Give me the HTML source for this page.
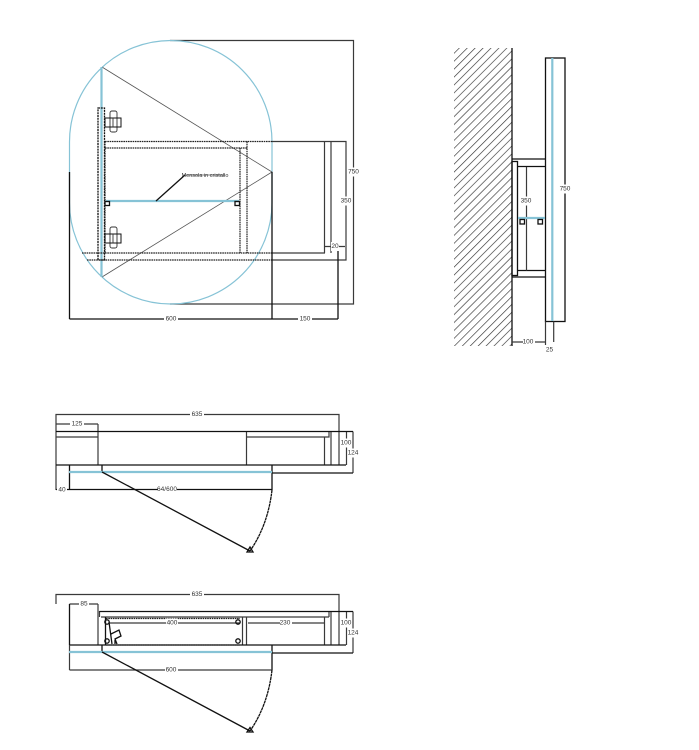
<!DOCTYPE html>
<html><head><meta charset="utf-8"><style>
html,body{margin:0;padding:0;background:#fff}
svg{display:block;filter:blur(.35px)}
text{font-family:"Liberation Sans",sans-serif;font-size:6.5px;fill:#333;text-anchor:middle;dominant-baseline:middle}
.k{stroke:#111;stroke-width:1.3;fill:none}
.g{stroke:#3a3a3a;stroke-width:1.2;fill:none}
.t{stroke:#555;stroke-width:.8;fill:none}
.d{stroke:#222;stroke-width:1.2;fill:none;stroke-dasharray:1.6 .7}
.b{stroke:#86c3d6;stroke-width:2.2;fill:none}
.bg{stroke:#fff;stroke-width:9}
</style></head><body>
<svg width="699" height="750" viewBox="0 0 699 750" xmlns="http://www.w3.org/2000/svg">
<defs><pattern id="h" width="5.6" height="5.6" patternUnits="userSpaceOnUse" patternTransform="rotate(45)"><line x1="0" y1="0" x2="0" y2="5.6" stroke="#333" stroke-width="1.3"/></pattern></defs>

<!-- TOP VIEW -->
<path class="g" d="M170 40.500H353.500V304H170"/>
<rect x="69.500" y="40.500" width="202.500" height="263.500" rx="101.250" ry="101.250" fill="none" stroke="#86c3d6" stroke-width="1.200"/>
<path class="t" d="M102 67L272 172L102 277"/>
<path class="b" d="M101.500 67V277"/>
<rect x="98" y="108" width="6.500" height="152" class="k" stroke-dasharray="2 .8"/>
<path class="d" d="M105 141.500H272M105 148H247M240 148V253M247 141.500V253M82 253H272M87 260H272M105 141.500V201M105 205V253"/>
<path class="g" d="M272 141.500H346V260H272M272 253H325M324.500 141.500V253M331 141.500V253M325 246.500H345"/>
<path class="k" d="M272 172V319M69.500 172V319M69.500 319H338M338 246V319"/>
<path class="b" d="M106 201H239"/>
<path class="k" stroke-width=".9" d="M156 201L185 175"/>
<path class="t" d="M185 175H225"/>
<rect x="105" y="201.500" width="4.500" height="4" class="k" stroke-width="1"/>
<rect x="235" y="201.500" width="4.500" height="4" class="k" stroke-width="1"/>
<g>
<rect x="110" y="111" width="7" height="21" rx="2" fill="none" stroke="#333" stroke-width=".9"/>
<rect x="105" y="118" width="16" height="9" fill="none" stroke="#111" stroke-width="1"/>
<path d="M113 118V127" stroke="#333" stroke-width=".9"/>
<rect x="110" y="227" width="7" height="21" rx="2" fill="none" stroke="#333" stroke-width=".9"/>
<rect x="105" y="234" width="16" height="9" fill="none" stroke="#111" stroke-width="1"/>
<path d="M113 234V243" stroke="#333" stroke-width=".9"/>
</g>
<path class="bg" d="M349 172H357M342 201H350M331 246.500H339M164 319H178M298 319H312"/>
<text x="353.500" y="172">750</text><text x="346" y="201">350</text><text x="335" y="246.500">20</text>
<text x="171" y="319">600</text><text x="305" y="319">150</text>
<text x="205" y="175.500" style="font-size:5.500px">Mensola in cristallo</text>

<!-- SIDE VIEW -->
<rect x="454" y="48" width="58" height="298" fill="url(#h)"/>
<path class="k" d="M512 48V346"/>
<rect x="545.500" y="58" width="19.500" height="263.500" class="k"/>
<path class="b" d="M552.300 58V321"/>
<path class="g" d="M553.700 321.500V342M545.500 321.500V345"/>
<path class="k" d="M512 159H545.500M512 277H545.500M517.500 166.500H545.500M517.500 270.500H545.500"/>
<rect x="512" y="161.500" width="5.500" height="114" class="k"/>
<path class="g" d="M526.500 167V270.500"/>
<path class="b" d="M518 218H545"/>
<rect x="520" y="219.500" width="4.500" height="4.500" class="k" stroke-width="1"/><rect x="538" y="219.500" width="4.500" height="4.500" class="k" stroke-width="1"/>
<path class="g" d="M512 342H545.500"/>
<path class="bg" d="M520 201H532M560 189H570M523 342H535"/>
<text x="526" y="201">350</text><text x="565" y="189">750</text><text x="528" y="342">100</text><text x="549.500" y="350">25</text>

<!-- MIDDLE PLAN -->
<path class="g" d="M56 490V414.500H339V465M56 424H98M98 424V465M56 437H98M246.500 432V465M247 437H329V432M324.500 437V465M331 432V465M346.500 431.500V465M353 431.500V473"/>
<path class="k" d="M56 431.500H353M56 465H346M272 473H353M69.500 465V490M56 489.500H272M272 465V490M102 465V472"/>
<path class="b" d="M69 472H272"/>
<path class="k" stroke-width=".9" d="M102 472L250 551"/>
<path class="k" stroke-width="1" d="M272 490Q268 525 250 551" stroke-dasharray="3 .5"/>
<path class="k" stroke-width=".9" d="M250 547L253 552H247Z"/>
<path class="bg" d="M190 414.500H204M70 424H84M342 443H351M349 453H358M57 489.500H67M158 489.500H177"/>
<text x="197" y="414.500">635</text><text x="77" y="424">125</text><text x="346" y="443">100</text><text x="353" y="453">124</text><text x="62" y="490">40</text><text x="167" y="489.500">64/600</text>

<!-- BOTTOM PLAN -->
<path class="g" d="M56 604V594.500H339V645M69.500 604H98M98 604V645M99.500 611V617M101 617H329M329 611V617M246.500 617V645M324.500 617V645M331 611V645M346.500 611.500V645M353 611.500V653M242.500 617V645"/>
<path class="k" d="M69.500 604V645M99.500 611.500H353M69 645H346M272 653H353M272 645V670M102 645V652M105.500 617V645"/>
<path class="d" d="M106 618.500H240M106 645H240"/>
<path class="g" d="M109 623H240M248 623H324M69.500 645V670M69.500 670H272"/>
<path class="b" d="M69 652H272"/>
<circle cx="107" cy="622" r="2.200" class="k" fill="#fff"/><circle cx="107" cy="641" r="2.200" class="k" fill="#fff"/>
<circle cx="238" cy="622" r="2.200" class="k" fill="#fff"/><circle cx="238" cy="641" r="2.200" class="k" fill="#fff"/>
<path class="k" stroke-width="1" d="M109 622L112 644M111 634L119 630L121 636L115 639L117 644M115 644V640"/>
<path class="k" stroke-width=".9" d="M102 652L250 731"/>
<path class="k" stroke-width="1" d="M272 670Q268 705 250 731" stroke-dasharray="3 .5"/>
<path class="k" stroke-width=".9" d="M250 727.500L253 732H247Z"/>
<path class="bg" d="M190 594.500H204M79 604H89M166 623H178M280 623H292M342 623H351M349 633H358M165 670H178"/>
<text x="197" y="594.500">635</text><text x="84" y="604">85</text><text x="172" y="623">400</text><text x="285" y="623">230</text><text x="346" y="623">100</text><text x="353" y="633">124</text><text x="171" y="670">600</text>
</svg>
</body></html>
